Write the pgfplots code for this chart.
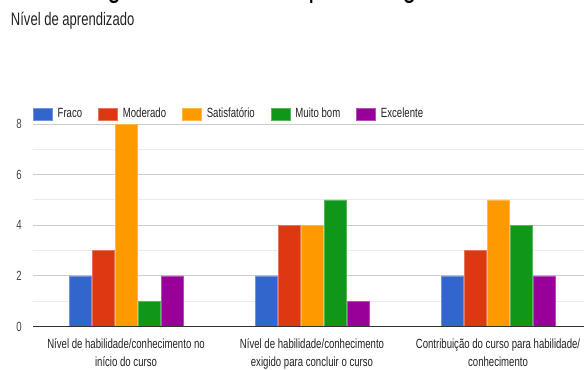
\documentclass[border=0pt]{standalone}
\usepackage{pgfplots}
\pgfplotsset{compat=1.18}
\usepackage{fontspec}
\setmainfont{Liberation Sans}[FakeStretch=0.72]

\definecolor{cFraco}{HTML}{3366CC}
\definecolor{cModerado}{HTML}{DC3912}
\definecolor{cSatisf}{HTML}{FF9900}
\definecolor{cMuito}{HTML}{109618}
\definecolor{cExcel}{HTML}{990099}
\definecolor{gridmaj}{HTML}{CCCCCC}
\definecolor{gridmin}{HTML}{EBEBEB}
\definecolor{axisc}{HTML}{333333}
\definecolor{tickc}{HTML}{444444}
\definecolor{labc}{HTML}{222222}

\begin{document}
\begin{tikzpicture}
\path[use as bounding box] (0pt,0pt) rectangle (438pt,277.5pt);
\clip (0pt,0pt) rectangle (438pt,277.5pt);
% heading of the page, only its lowest part is in view
\node[anchor=base west, inner sep=0pt, font=\fontsize{25.5}{30}\selectfont, text=black]
  at (15pt,280.3pt) {Análise geral do nível de aprendizagem};
\node[anchor=west, inner sep=0pt, font=\fontsize{13.6}{15}\selectfont, text=labc]
  at (8pt,261.75pt) {Nível de aprendizado};
\begin{axis}[
  at={(24.75pt,32.6pt)}, anchor=south west, scale only axis,
  width=418.5pt, height=151.9pt,
  ybar=0.75pt, bar width=16.5pt,
  xmin=-0.5, xmax=2.5, ymin=0, ymax=8,
  axis line style={draw=none},
  major tick length=0pt, minor tick length=0pt,
  tick style={draw=none},
  xtick={0,1,2},
  xticklabels={{Nível de habilidade/conhecimento no\\início do curso},
               {Nível de habilidade/conhecimento\\exigido para concluir o curso},
               {Contribuição do curso para habilidade/\\conhecimento}},
  xticklabel style={font=\fontsize{10}{13.5}\selectfont, align=center, text=labc, yshift=-5.5pt},
  ytick={0,2,4,6,8}, minor ytick={1,3,5,7},
  yticklabel style={font=\fontsize{10}{12}\selectfont, text=tickc, xshift=-5pt},
  /pgf/number format/assume math mode=true,
  ymajorgrids, yminorgrids,
  major grid style={draw=gridmaj, line width=0.75pt},
  minor grid style={draw=gridmin, line width=0.75pt},
  legend columns=5,
  legend cell align=left,
  legend style={at={(0,1)}, anchor=west, yshift=7.5pt, draw=none, fill=none,
    inner sep=0pt, outer sep=0pt, font=\fontsize{10}{12}\selectfont, text=labc,
    nodes={inner sep=0pt},
    /tikz/every odd column/.append style={column sep=3.75pt},
    /tikz/every even column/.append style={column sep=12pt}},
  legend image code/.code={\fill[#1] (0pt,-4.5pt) rectangle (14.25pt,4.5pt);},
]
\addplot[fill=cFraco, draw=cFraco!70!white, line width=0.5pt] coordinates {(0,2) (1,2) (2,2)};
\addplot[fill=cModerado, draw=cModerado!70!white, line width=0.5pt] coordinates {(0,3) (1,4) (2,3)};
\addplot[fill=cSatisf, draw=cSatisf!70!white, line width=0.5pt] coordinates {(0,8) (1,4) (2,5)};
\addplot[fill=cMuito, draw=cMuito!70!white, line width=0.5pt] coordinates {(0,1) (1,5) (2,4)};
\addplot[fill=cExcel, draw=cExcel!70!white, line width=0.5pt] coordinates {(0,2) (1,1) (2,2)};
\legend{Fraco, Moderado, Satisfatório, Muito bom, Excelente}
\draw[axisc, line width=0.9pt] (axis cs:-0.5,0) -- (axis cs:2.5,0);
\end{axis}
\end{tikzpicture}
\end{document}
